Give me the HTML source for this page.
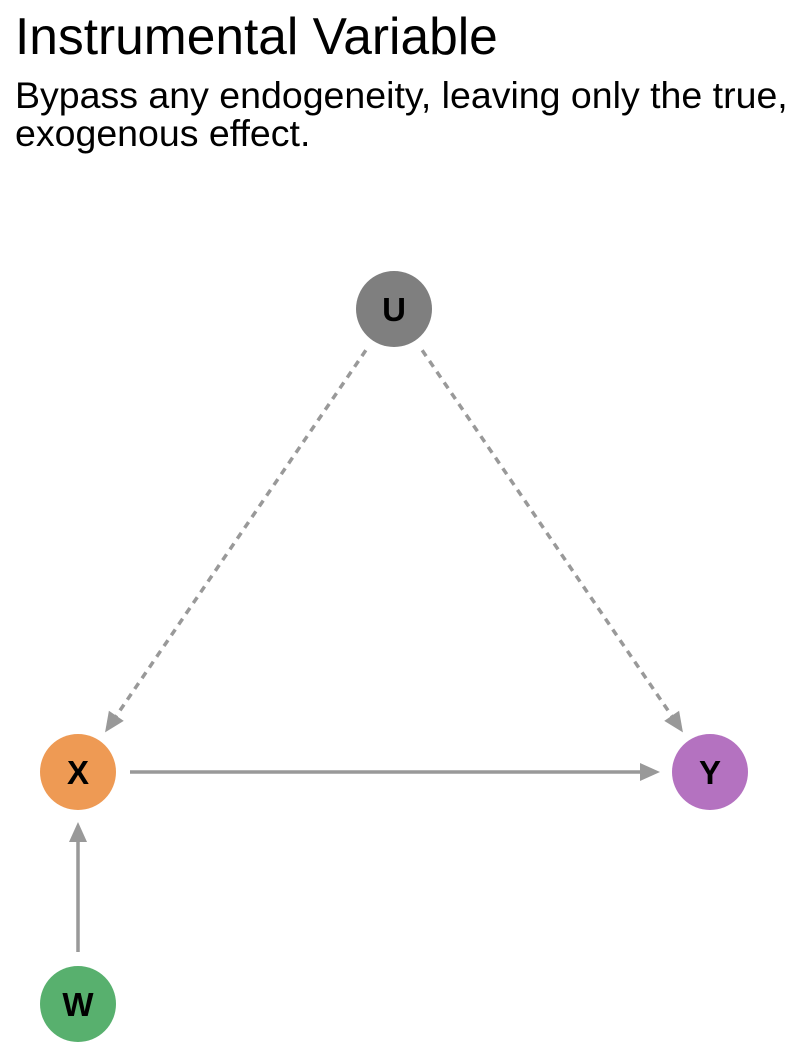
<!DOCTYPE html>
<html><head><meta charset="utf-8"><style>
body{margin:0;background:#fff;}
svg{display:block;font-family:"Liberation Sans",sans-serif;}
</style></head><body>
<svg id="c" width="802" height="1058">
<text x="15" y="54" font-size="51.5" fill="#000">Instrumental Variable</text>
<text x="15" y="108" font-size="37.5" fill="#000">Bypass any endogeneity, leaving only the true,</text>
<text x="15" y="146" font-size="37.5" fill="#000">exogenous effect.</text>
<g id="edges"></g><g id="nodes"></g>
</svg>
<script>
const nodeNames=["U","X","Y","W"];
const nodeX=[394,78,710,78];
const nodeY=[309,772,772,1004];
const nodeColors=["#7f7f7f","#ee9a54","#b472c0","#58b06e"];
const edgeFrom=[0,0,1,3];
const edgeTo=[1,2,2,1];
const edgeDashed=[true,true,false,false];
const NS="http://www.w3.org/2000/svg";
const R=38;
const eg=document.getElementById('edges'),ng=document.getElementById('nodes');
for(let i=0;i<edgeFrom.length;i++){
  const a=edgeFrom[i],b=edgeTo[i];
  const x1=nodeX[a],y1=nodeY[a],x2=nodeX[b],y2=nodeY[b];
  const dx=x2-x1,dy=y2-y1,L=Math.hypot(dx,dy),ux=dx/L,uy=dy/L;
  const s=edgeDashed[i]?50:52,e=edgeDashed[i]?48:50;
  const sx=x1+ux*s,sy=y1+uy*s,ex=x2-ux*e,ey=y2-uy*e;
  const g=document.createElementNS(NS,'g');
  
  
  const ln=document.createElementNS(NS,'line');
  ln.setAttribute('x1',sx);ln.setAttribute('y1',sy);
  ln.setAttribute('x2',ex-ux*12);ln.setAttribute('y2',ey-uy*12);
  ln.setAttribute('stroke','#999');ln.setAttribute('stroke-width','3.5');
  if(edgeDashed[i])ln.setAttribute('stroke-dasharray','7 6');
  g.appendChild(ln);
  const px=-uy,py=ux,hl=20,hw=9;
  const p=document.createElementNS(NS,'polygon');
  p.setAttribute('points',`${ex},${ey} ${ex-ux*hl+px*hw},${ey-uy*hl+py*hw} ${ex-ux*hl-px*hw},${ey-uy*hl-py*hw}`);
  p.setAttribute('fill','#999');
  g.appendChild(p);
  eg.appendChild(g);
}
for(let i=0;i<nodeNames.length;i++){
  const g=document.createElementNS(NS,'g');
  
  
  const c=document.createElementNS(NS,'circle');
  c.setAttribute('cx',nodeX[i]);c.setAttribute('cy',nodeY[i]);c.setAttribute('r',R);c.setAttribute('fill',nodeColors[i]);
  g.appendChild(c);
  const t=document.createElementNS(NS,'text');
  t.setAttribute('x',nodeX[i]);t.setAttribute('y',nodeY[i]+12);
  t.setAttribute('text-anchor','middle');t.setAttribute('font-size','33');t.setAttribute('font-weight','bold');
  t.textContent=nodeNames[i];
  g.appendChild(t);
  ng.appendChild(g);
}
</script>
</body></html>
